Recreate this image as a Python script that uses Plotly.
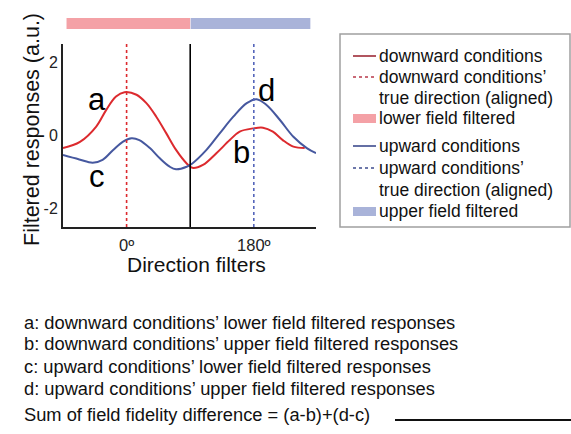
import plotly.graph_objects as go

# ---- data ----
down_x = [-90, -66, -43, -29, -15, -3, 14, 28, 42, 56, 70, 85, 93, 108, 127, 146, 160, 179, 193, 207, 221, 236, 252]
down_y = [-0.36, -0.19, 0.23, 0.68, 1.05, 1.17, 1.1, 0.87, 0.5, 0.05, -0.41, -0.78, -0.9, -0.82, -0.5, -0.14, 0.09, 0.18, 0.2, 0.09, -0.14, -0.32, -0.36]
up_x = [-90, -67, -48, -34, -19, -5, 7, 18, 33, 47, 61, 70, 85, 93, 113, 132, 151, 170, 184, 198, 217, 236, 255, 268]
up_y = [-0.55, -0.67, -0.76, -0.68, -0.41, -0.18, -0.09, -0.14, -0.36, -0.64, -0.87, -0.94, -0.87, -0.78, -0.41, 0.05, 0.5, 0.87, 0.98, 0.82, 0.41, -0.05, -0.36, -0.5]
down_true_dir = 0
up_true_dir = 180
boundary = 90
lower_field_span = [-85, 90]
upper_field_span = [90, 260]
x_tickvals = [0, 180]
x_ticktext = ["0º", "180º"]
y_tickvals = [-2, 0, 2]
y_ticktext = ["-2", "0", "2"]
point_labels = ["a", "b", "c", "d"]
point_label_x = [-42, 163, -42, 198]
point_label_y = [0.96, -0.49, -1.15, 1.23]
legend_texts = ["downward conditions", "downward conditions’", "true direction (aligned)",
                "lower field filtered", "upward conditions", "upward conditions’",
                "true direction (aligned)", "upper field filtered"]
notes = ["a: downward conditions’ lower field filtered responses",
         "b: downward conditions’ upper field filtered responses",
         "c: upward conditions’ lower field filtered responses",
         "d: upward conditions’ upper field filtered responses"]
sum_text = "Sum of field fidelity difference = (a-b)+(d-c)"

RED = "#DC2A2E"
BLUE = "#46589F"
PINK = "#F4A1A6"
LBLUE = "#A9B3D9"
FONT = "Liberation Sans, Arial, sans-serif"

W, H = 571, 434
L, R, T, B = 63, 255, 44, 207
PW, PH = W - L - R, H - T - B


def px(x):
    return (x - L) / PW


def py(y):
    return (H - B - y) / PH


fig = go.Figure()
fig.add_trace(go.Scatter(x=down_x, y=down_y, mode="lines", line=dict(color=RED, width=2, shape="spline"),
                         showlegend=False, hoverinfo="skip"))
fig.add_trace(go.Scatter(x=up_x, y=up_y, mode="lines", line=dict(color=BLUE, width=2, shape="spline"),
                         showlegend=False, hoverinfo="skip"))

shapes = []
# vertical lines
shapes.append(dict(type="line", xref="x", yref="paper", x0=down_true_dir, x1=down_true_dir, y0=0, y1=1,
                   line=dict(color=RED, width=1.6, dash="dot")))
shapes.append(dict(type="line", xref="x", yref="paper", x0=up_true_dir, x1=up_true_dir, y0=0, y1=1,
                   line=dict(color="#5566BB", width=1.6, dash="dot")))
shapes.append(dict(type="line", xref="x", yref="paper", x0=boundary, x1=boundary, y0=0, y1=1,
                   line=dict(color="black", width=1.6)))
# field bars on top
shapes.append(dict(type="rect", xref="x", yref="paper", x0=lower_field_span[0], x1=lower_field_span[1],
                   y0=py(29), y1=py(18), fillcolor=PINK, line=dict(width=0)))
shapes.append(dict(type="rect", xref="x", yref="paper", x0=upper_field_span[0] + 0.7, x1=upper_field_span[1],
                   y0=py(29), y1=py(18), fillcolor=LBLUE, line=dict(width=0)))

# legend box
shapes.append(dict(type="rect", xref="paper", yref="paper", x0=px(340), x1=px(570), y0=py(227), y1=py(34),
                   line=dict(color="#A0A0A0", width=1.5), fillcolor="rgba(0,0,0,0)"))
rows_y = [56, 77, 98, 118, 146, 168, 190, 211]
kinds = ["solid", "dot", None, "rect", "solid", "dot", None, "rect"]
cols = ["#9E2A36", "#B8394A", None, PINK, "#3E4C8E", "#3E4C8E", None, LBLUE]
annotations = []
for yy, kd, cc, tt in zip(rows_y, kinds, cols, legend_texts):
    if kd in ("solid", "dot"):
        shapes.append(dict(type="line", xref="paper", yref="paper", x0=px(353), x1=px(376), y0=py(yy), y1=py(yy),
                           line=dict(color=cc, width=1.6, dash=kd)))
    elif kd == "rect":
        shapes.append(dict(type="rect", xref="paper", yref="paper", x0=px(353), x1=px(376), y0=py(yy + 5),
                           y1=py(yy - 4), fillcolor=cc, line=dict(width=0)))
    annotations.append(dict(text=tt, xref="paper", yref="paper", x=px(377), y=py(yy), xanchor="left",
                            yanchor="middle", showarrow=False, font=dict(size=17.5, color="#111", family=FONT)))

# point labels
for t, xx, yy in zip(point_labels, point_label_x, point_label_y):
    annotations.append(dict(text=t, x=xx, y=yy, xref="x", yref="y", showarrow=False,
                            font=dict(size=31, color="black", family=FONT)))

# axis titles
annotations.append(dict(text="Filtered responses (a.u.)", xref="paper", yref="paper", x=px(32), y=py(130),
                        textangle=-90, showarrow=False, xanchor="center", yanchor="middle",
                        font=dict(size=21.5, color="#111", family=FONT)))
annotations.append(dict(text="Direction filters", xref="paper", yref="paper", x=px(196), y=py(264),
                        showarrow=False, xanchor="center", yanchor="middle",
                        font=dict(size=21, color="#111", family=FONT)))

# notes
for yy, tt in zip([322, 343, 366, 388], notes):
    annotations.append(dict(text=tt, xref="paper", yref="paper", x=px(22), y=py(yy), xanchor="left",
                            yanchor="middle", showarrow=False, font=dict(size=18.3, color="#111", family=FONT)))
annotations.append(dict(text=sum_text, xref="paper", yref="paper", x=px(22), y=py(414), xanchor="left",
                        yanchor="middle", showarrow=False, font=dict(size=18.3, color="#111", family=FONT)))
shapes.append(dict(type="line", xref="paper", yref="paper", x0=px(395), x1=px(572), y0=py(420), y1=py(420),
                   line=dict(color="#111", width=2)))

fig.update_layout(
    width=W, height=H, margin=dict(l=L, r=R, t=T, b=B),
    paper_bgcolor="white", plot_bgcolor="white",
    shapes=shapes, annotations=annotations, showlegend=False,
    font=dict(family=FONT, color="#111"),
)
fig.update_xaxes(range=[-90, 268], tickvals=x_tickvals, ticktext=x_ticktext, showgrid=False, zeroline=False,
                 showline=True, linecolor="#222", linewidth=2, ticks="", tickfont=dict(size=16.5, color="#222"),
                 ticklabelstandoff=2)
fig.update_yaxes(range=[-2.52, 2.49], tickvals=y_tickvals, ticktext=y_ticktext, showgrid=False, zeroline=False,
                 showline=True, linecolor="#222", linewidth=2, ticks="", tickfont=dict(size=16, color="#222"))

fig.write_html("out.html")
